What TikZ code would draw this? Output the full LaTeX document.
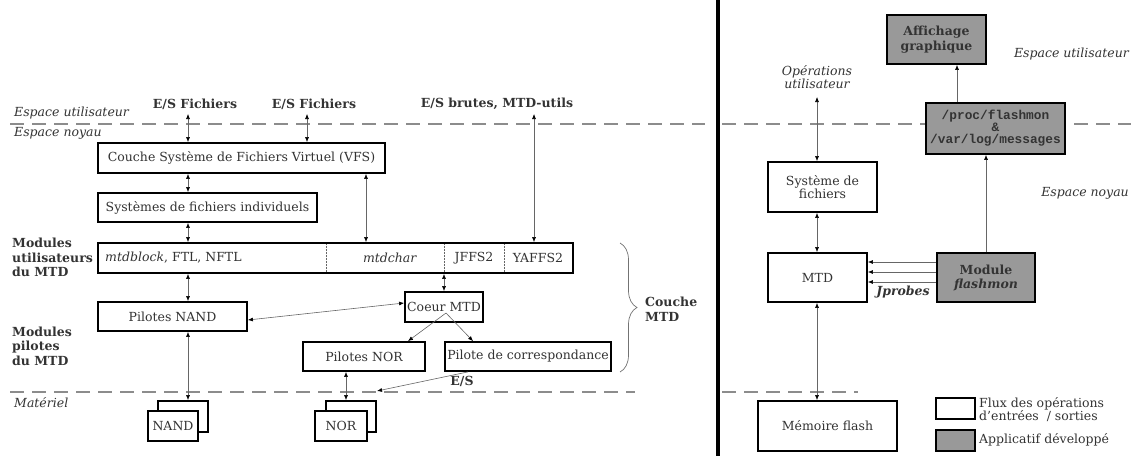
\documentclass[tikz,border=0pt]{standalone}
\usepackage{fontspec}
\setmainfont{DejaVu Serif}
\setmonofont{Liberation Mono}
\usetikzlibrary{arrows.meta,decorations.pathreplacing,calc}
\begin{document}
\begin{tikzpicture}[x=1pt,y=-1pt,
  txt/.style={font=\fontsize{12.5}{13.5}\selectfont, text=black!80, inner sep=0pt},
  box/.style={txt, draw=black, line width=1.8pt, fill=white, align=center},
  gbox/.style={box, fill=black!40},
  lbl/.style={txt, font=\fontsize{12.5}{13.5}\selectfont\itshape},
  blbl/.style={txt, font=\fontsize{12.5}{14.5}\selectfont\bfseries, align=left},
  conn/.style={draw=black!60, line width=0.6pt, {Latex[length=5pt,width=4pt,black]}-{Latex[length=5pt,width=4pt,black]}},
  one/.style={draw=black!60, line width=0.6pt, -{Latex[length=5pt,width=4pt,black]}},
  sep/.style={draw=black!45, line width=1.1pt, dash pattern=on 14pt off 8pt},
  dots/.style={draw=black!60, line width=0.5pt, densely dotted}
]
\useasboundingbox (0,0) rectangle (1131,456);

% separators
\draw[sep] (10,124) -- (705,124);
\draw[sep] (722,124) -- (1131,124);
\draw[sep] (10,392) -- (635,392);
\draw[sep] (722,392) -- (858,392);
\draw[line width=3.5pt] (718,0) -- (718,456);

% left side labels
\node[lbl, anchor=west] (eu) at (14,113) {Espace utilisateur};
\node[lbl, anchor=west] (en) at (14,133) {Espace noyau};
\node[lbl, anchor=west] (mat) at (14,403) {Matériel};
\node[blbl, anchor=west] (mu) at (12,257.5) {Modules\\utilisateurs\\du MTD};
\node[blbl, anchor=west] (mp) at (12,346) {Modules\\pilotes\\du MTD};

\node[blbl] (es1) at (195,104) {E/S Fichiers};
\node[blbl] (es2) at (314,104) {E/S Fichiers};
\node[blbl] (es3) at (497,104) {E/S brutes, MTD-utils};

% left boxes
\node[box, minimum width=287pt, minimum height=30pt] (vfs) at (241.5,158) {Couche Système de Fichiers Virtuel (VFS)};
\node[box, minimum width=219pt, minimum height=29pt] (sfi) at (207.5,207.5) {Systèmes de fichiers individuels};
\node[box, minimum width=475pt, minimum height=30pt] (mtdu) at (335.5,258) {};
\node[txt, anchor=west] (t1) at (105,258) {\textit{mtdblock}, FTL, NFTL};
\node[txt] (t2) at (390,258) {\textit{mtdchar}};
\node[txt] (t3) at (474,258) {JFFS2};
\node[txt] (t4) at (538,258) {YAFFS2};
\draw[dots] (326,244) -- (326,272);
\draw[dots] (444,244) -- (444,272);
\draw[dots] (504,244) -- (504,272);

\node[box, minimum width=149pt, minimum height=29pt] (pnand) at (172.5,316.5) {Pilotes NAND};
\node[box, minimum width=78pt, minimum height=30pt] (coeur) at (444,307) {Coeur MTD};
\node[box, minimum width=122pt, minimum height=29pt] (pnor) at (364,356.5) {Pilotes NOR};
\node[box, minimum width=166pt, minimum height=29pt] (corr) at (528,356.5) {Pilote de correspondance};

\node[box, minimum width=50pt, minimum height=31pt] (nandb) at (183,416.5) {};
\node[box, minimum width=50pt, minimum height=30pt] (nand) at (173,426) {NAND};
\node[box, minimum width=50pt, minimum height=31pt] (norb) at (351,416.5) {};
\node[box, minimum width=52pt, minimum height=30pt] (nor) at (341,426) {NOR};

% left connectors
\coordinate (a1) at (188,114);
\coordinate (a2) at (307,114);
\coordinate (a3) at (534,114);
\draw[conn] (a1) -- (a1 |- vfs.north);
\draw[conn] (a2) -- (a2 |- vfs.north);
\draw[conn] (a3) -- (a3 |- mtdu.north);
\draw[conn] (vfs.south -| a1) -- (sfi.north -| a1);
\draw[conn] (sfi.south -| a1) -- (mtdu.north -| a1);
\draw[conn] (vfs.south -| 366,0) -- (mtdu.north -| 366,0);
\draw[conn] (mtdu.south -| a1) -- (pnand.north -| a1);
\draw[conn] (mtdu.south -| coeur.north) -- (coeur.north);
\draw[conn] ([yshift=4pt]coeur.west) -- ([yshift=-3.5pt]pnand.east);
\coordinate (cs) at ([shift={(2,6)}]coeur.center);
\draw[one] (cs) -- (pnor.north -| 408,0);
\draw[one] (cs) -- (corr.north -| 473,0);
\draw[conn] (pnand.south -| a1) -- (nandb.north -| a1);
\draw[conn] (pnor.south -| 346,0) -- (norb.north -| 346,0);
\coordinate (esend) at (377,391);
\draw[one] (corr.south -| 468,0) -- (esend);
\node[blbl] (es4) at (462,381) {E/S};

% brace
\draw[draw=black!55, line width=0.7pt, decorate, decoration={brace, amplitude=17pt}] (620,243) -- (620,372);
\node[blbl, anchor=west, font=\fontsize{12.5}{15}\selectfont\bfseries] (cmtd) at (645,309.5) {Couche\\MTD};

% right side
\node[gbox, minimum width=99pt, minimum height=49pt, font=\fontsize{12.5}{15}\selectfont\bfseries] (aff) at (936.5,39.5) {Affichage\\graphique};
\node[gbox, minimum width=139pt, minimum height=51pt, font=\fontsize{12.8}{12}\selectfont\ttfamily\bfseries] (proc) at (995.5,128.5) {/proc/flashmon\\\&\\/var/log/messages};
\node[lbl, align=center, font=\fontsize{12.5}{13.5}\selectfont\itshape] (ops) at (817,77) {Opérations\\utilisateur};
\node[lbl, anchor=east] (eu2) at (1129,54) {Espace utilisateur};
\node[lbl, anchor=east] (en2) at (1129,193) {Espace noyau};
\node[box, minimum width=109pt, minimum height=50pt] (sf) at (822.5,187) {Système de\\fichiers};
\node[box, minimum width=99pt, minimum height=49pt] (mtd) at (817.5,277.5) {MTD};
\node[gbox, minimum width=98pt, minimum height=49pt, font=\fontsize{12.5}{14}\selectfont\bfseries] (flm) at (986,277.5) {Module\\\textit{flashmon}};
\node[box, minimum width=139pt, minimum height=50pt] (mem) at (827.5,426) {Mémoire flash};
\node[blbl, font=\fontsize{12.5}{13}\selectfont\bfseries\itshape] (jp) at (903,292) {Jprobes};

\draw[one] (proc.north -| 957,0) -- (aff.south -| 957,0);
\draw[one] (flm.north) -- (proc.south -| flm.north);
\coordinate (b1) at (817,97);
\draw[conn] (b1) -- (b1 |- sf.north);
\draw[conn] (sf.south -| b1) -- (mtd.north -| b1);
\draw[conn] (mtd.south -| b1) -- (mem.north -| b1);
\draw[one] ([yshift=15.5pt]flm.west) -- ([yshift=15.5pt]mtd.east);
\draw[one] ([yshift=5.5pt]flm.west) -- ([yshift=5.5pt]mtd.east);
\draw[one] ([yshift=-4.5pt]flm.west) -- ([yshift=-4.5pt]mtd.east);

% legend
\node[box, minimum width=39pt, minimum height=21pt] (lw) at (955.5,408.5) {};
\node[gbox, minimum width=39pt, minimum height=21pt] (lg) at (955.5,440.5) {};
\node[txt, anchor=west, align=left, font=\fontsize{12.5}{13.5}\selectfont] (lwt) at (979,409.5) {Flux des opérations\\d'entrées~ / sorties};
\node[txt, anchor=west] (lgt) at (979,440) {Applicatif développé};
\end{tikzpicture}
\end{document}
